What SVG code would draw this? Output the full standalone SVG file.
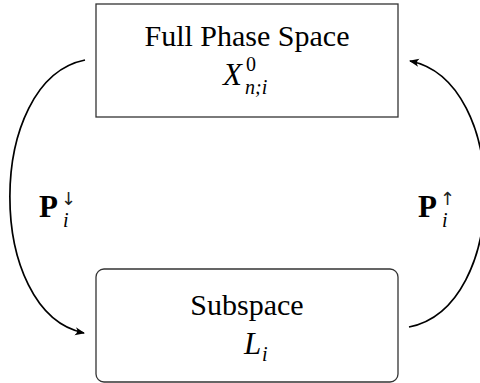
<svg xmlns="http://www.w3.org/2000/svg" width="480" height="383" viewBox="0 0 480 383">
<style>
.box{fill:#fff;stroke:#333;stroke-width:1.3}
.t{font-family:"Liberation Serif","DejaVu Serif",serif;fill:#000}
.ar{font-family:"DejaVu Sans",sans-serif;fill:#222}
.it{font-style:italic}
.b{font-weight:bold}
.c{fill:none;stroke:#000;stroke-width:1.7}
</style>
<defs>
<marker id="ah" viewBox="0 0 10 10" refX="9" refY="5" markerWidth="10" markerHeight="10" markerUnits="userSpaceOnUse" orient="auto">
<path d="M0,1 Q4,5 0,9 L10,5 Z" fill="#000"/>
</marker>
</defs>
<rect width="480" height="383" fill="#fff"/>
<g id="connectors">
<path class="c" d="M85,60 C-15,80 -15,313 84,333" marker-end="url(#ah)"/>
<path class="c" d="M409,327 C510,307 510,81 410,61" marker-end="url(#ah)"/>
</g>
<g id="full">
<rect class="box" x="96" y="4" width="302" height="113"/>
<text class="t" x="247" y="46" font-size="30" text-anchor="middle">Full Phase Space</text>
<text class="t it" x="223" y="85" font-size="31">X</text>
<text class="t" x="246" y="71" font-size="20">0</text>
<text class="t it" x="245" y="94" font-size="20">n;i</text>
</g>
<g id="sub">
<rect class="box" x="96" y="269" width="302" height="113" rx="8"/>
<text class="t" x="247" y="315" font-size="30" text-anchor="middle">Subspace</text>
<text class="t it" x="244" y="354" font-size="31">L</text>
<text class="t it" x="262" y="361" font-size="20">i</text>
</g>
<g id="pdown">
<text class="t b" x="39" y="217" font-size="31">P</text>
<text class="ar" x="61" y="205" font-size="18">↓</text>
<text class="t it" x="63" y="227" font-size="20">i</text>
</g>
<g id="pup">
<text class="t b" x="418" y="217" font-size="31">P</text>
<text class="ar" x="440" y="205" font-size="18">↑</text>
<text class="t it" x="442" y="227" font-size="20">i</text>
</g>
</svg>
